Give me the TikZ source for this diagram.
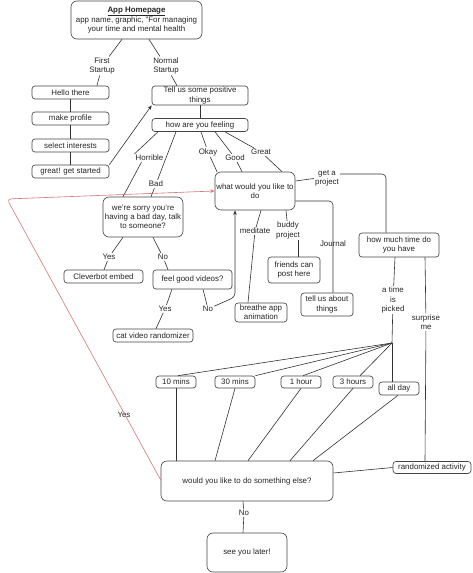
\documentclass[tikz,border=0pt]{standalone}
\usepackage{fontspec}
\setmainfont{Liberation Sans}
\usetikzlibrary{arrows.meta}
\definecolor{boxline}{rgb}{0.27,0.27,0.27}
\definecolor{redline}{RGB}{214,118,118}
\begin{document}
\begin{tikzpicture}[x=1pt,y=-1pt,
 every node/.style={font=\fontsize{7.9}{9.3}\selectfont, text=black!85},
 box/.style={draw=boxline, line width=0.65pt, rounded corners=3pt, align=center, inner sep=0pt},
 bigbox/.style={box, rounded corners=6pt},
 sz/.style 2 args={minimum width=#1pt, minimum height=#2pt},
 lbl/.style={align=center, inner sep=1pt},
 conn/.style={draw=black!80, line width=0.6pt},
 arr/.style={conn, -{Stealth[length=4.5pt,width=3.5pt]}},
 redarr/.style={draw=redline, line width=0.6pt, -{Stealth[length=4.5pt,width=3.5pt]}, rounded corners=4pt}
]
\fill[white] (0,0) rectangle (472,573);
\useasboundingbox (0,0) rectangle (472,573);

% boxes
\node[bigbox, sz={131}{38}] (home) at (136.5,20) {{\bfseries\underline{App Homepage}}\\app name, graphic, "For managing\\your time and mental health};
\node[box, sz={77}{13}] (hello) at (70.5,92.5) {Hello there};
\node[box, sz={77}{13}] (profile) at (70.5,118.5) {make profile};
\node[box, sz={77}{13}] (interests) at (70.5,145.5) {select interests};
\node[box, sz={77}{13}] (started) at (70.5,171.5) {great! get started};
\node[box, sz={96}{19}] (tellus) at (200,95.5) {Tell us some positive\\things};
\node[box, sz={96}{13}] (feeling) at (200,125) {how are you feeling};
\node[bigbox, sz={80}{38}] (what) at (255,191) {what would you like to\\do};
\node[bigbox, sz={80}{40}] (sorry) at (143,217) {we're sorry you're\\having a bad day, talk\\to someone?};
\node[box, sz={79}{13}] (clever) at (103.5,276.5) {Cleverbot embed};
\node[box, sz={79}{19}] (feelgood) at (192.5,279.5) {feel good videos?};
\node[box, sz={80}{13}] (cat) at (153,335.5) {cat video randomizer};
\node[box, sz={52}{19}] (breathe) at (261,312.5) {breathe app\\animation};
\node[box, sz={52}{26}] (friends) at (294,270) {friends can\\post here};
\node[box, sz={52}{23}] (tellabout) at (327,304.5) {tell us about\\things};
\node[box, sz={80}{24}] (howmuch) at (399,245) {how much time do\\you have};
\node[box, sz={40}{12}] (ten) at (176,382) {10 mins};
\node[box, sz={40}{12}] (thirty) at (235,382) {30 mins};
\node[box, sz={40}{12}] (onehour) at (301,382) {1 hour};
\node[box, sz={40}{12}] (three) at (353,382) {3 hours};
\node[box, sz={40}{13}] (allday) at (399,388.5) {all day};
\node[bigbox, sz={172}{40}] (else) at (247,481) {would you like to do something else?};
\node[box, sz={78}{12}] (rand) at (432,467.5) {randomized activity};
\node[bigbox, sz={80}{39}] (seeyou) at (247,552.5) {see you later!};

% labels
\node[lbl] (first) at (102,66) {First\\Startup};
\node[lbl] (normal) at (166,66) {Normal\\Startup};
\node[lbl] (horrible) at (149.5,158) {Horrible};
\node[lbl] (bad) at (156,184) {Bad};
\node[lbl] (okay) at (208,152) {Okay};
\node[lbl] (good) at (235,158) {Good};
\node[lbl] (great) at (261,152) {Great};
\node[lbl] (getproj) at (327,178.5) {get a\\project};
\node[lbl] (meditate) at (255,231) {meditate};
\node[lbl] (buddy) at (288,230.5) {buddy\\project};
\node[lbl] (journal) at (333,244) {Journal};
\node[lbl] (yes1) at (109,257) {Yes};
\node[lbl] (no1) at (163,257) {No};
\node[lbl] (yes2) at (165,309) {Yes};
\node[lbl] (no2) at (208,309) {No};
\node[lbl] (tpick) at (393,300) {a time\\is\\picked};
\node[lbl] (surprise) at (426,322) {surprise\\me};
\node[lbl] (yesred) at (124,415) {Yes};
\node[lbl] (noend) at (244,513) {No};

\coordinate (J) at (392,343);
\coordinate (bend) at (235,297);
\coordinate (rc) at (7,199);

% connectors
\draw[conn] ([xshift=-14.5pt]home.south) -- (first);
\draw[conn] (first) -- ([xshift=26.5pt]hello.north);
\draw[conn] ([xshift=12.5pt]home.south) -- (normal);
\draw[conn] (normal) -- ([xshift=-23pt]tellus.north);
\draw[conn] (hello) -- (profile);
\draw[conn] (profile) -- (interests);
\draw[conn] (interests) -- (started);
\draw[arr] (started.north east) -- (tellus.south west);
\draw[conn] (tellus) -- (feeling);

\draw[conn] ([xshift=-42pt]feeling.south) -- (horrible.north west);
\draw[conn] ([xshift=7pt]horrible.south west) -- ([xshift=-20pt]sorry.north);
\draw[conn] ([xshift=-24pt]feeling.south) -- (bad);
\draw[conn] (bad) -- ([xshift=8pt]sorry.north);
\draw[conn] ([xshift=1pt]feeling.south) -- (okay);
\draw[conn] (okay) -- ([xshift=-38pt]what.north);
\draw[conn] ([xshift=15pt]feeling.south) -- (good);
\draw[conn] (good) -- ([xshift=-13pt]what.north);
\draw[conn] ([xshift=25pt]feeling.south) -- (great);
\draw[conn] (great) -- ([xshift=27pt]what.north);

\draw[conn] ([yshift=10pt]what.east) -- (getproj.west);
\draw[conn, rounded corners=4pt] ([yshift=4.5pt]getproj.east) -| ([xshift=-13pt]howmuch.north);
\draw[conn, rounded corners=4pt] ([yshift=-10pt]what.east) -| ([xshift=6pt]tellabout.north);
\draw[conn] ([xshift=6pt]what.south) -- (meditate);
\draw[conn] (meditate) -- ([xshift=-13pt]breathe.north);
\draw[conn] ([xshift=31pt]what.south) -- (buddy);
\draw[conn] ([xshift=10pt]buddy.south) -- ([xshift=4pt]friends.north);

\draw[conn] ([xshift=-20pt]sorry.south) -- (yes1);
\draw[conn] (yes1) -- ([xshift=0.5pt]clever.north);
\draw[conn] ([xshift=10pt]sorry.south) -- (no1);
\draw[conn] (no1) -- ([xshift=-24.5pt]feelgood.north);
\draw[conn] ([xshift=-20.5pt]feelgood.south) -- (yes2);
\draw[conn] (yes2) -- ([xshift=3pt]cat.north);
\draw[conn] ([xshift=10.5pt]feelgood.south) -- (no2);
\draw[arr, rounded corners=4pt] (no2) -- (bend) -- ([xshift=-20pt]what.south);

\draw[conn] ([xshift=-4pt]howmuch.south) -- (tpick);
\draw[conn] (tpick) -- (J);
\draw[conn] (J) -- ([xshift=2pt]ten.north);
\draw[conn] (J) -- (thirty.north east);
\draw[conn] (J) -- ([xshift=2pt]onehour.north);
\draw[conn] (J) -- ([xshift=7pt]three.north);
\draw[conn] (J) -- ([xshift=-7pt]allday.north);
\draw[conn] (ten.south) -- ([xshift=-71pt]else.north);
\draw[conn] (thirty.south) -- ([xshift=-32pt]else.north);
\draw[conn] (onehour.south) -- ([xshift=1pt]else.north);
\draw[conn] (three.south) -- ([xshift=43pt]else.north);
\draw[conn] ([xshift=-1pt]allday.south) -- ([xshift=66pt]else.north);

\draw[conn] ([xshift=26pt]howmuch.south) -- (surprise);
\draw[conn] (surprise) -- ([xshift=-7pt]rand.north);
\draw[conn] (rand.west) -- ([yshift=8pt]else.east);
\draw[conn] ([xshift=-4pt]else.south) -- (noend);
\draw[conn] (noend) -- ([xshift=-4pt]seeyou.north);

\draw[redarr] ([yshift=1pt]else.west) -- (rc) -- (what.west);
\end{tikzpicture}
\end{document}
